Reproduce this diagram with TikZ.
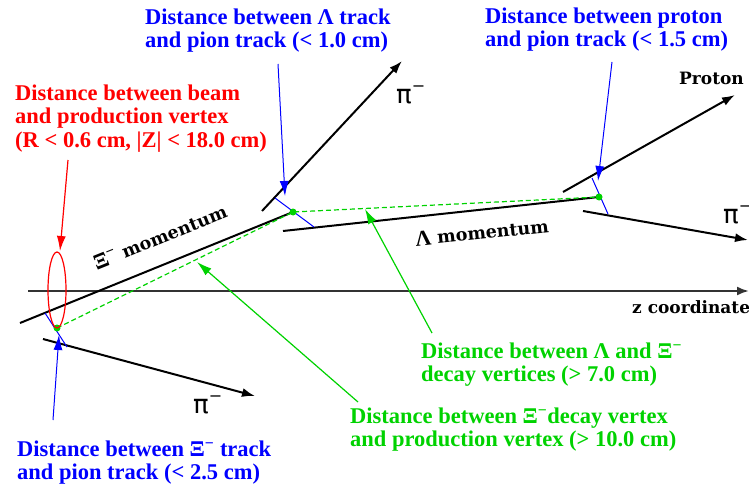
\documentclass[tikz,border=0pt]{standalone}
\usepackage{fontspec}
\newfontfamily\tnr{Liberation Serif}
\newfontfamily\pisans{DejaVu Sans}
\newfontfamily\dvserif{DejaVu Serif}
\usetikzlibrary{arrows.meta}
\definecolor{cred}{RGB}{255,0,0}
\definecolor{cblue}{RGB}{0,0,255}
\definecolor{cgreen}{RGB}{0,210,0}
\begin{document}
\begin{tikzpicture}[x=1pt,y=-1pt,
  lbl/.style={font=\tnr\bfseries\fontsize{22.5}{23.5}\selectfont, align=left, anchor=north west, inner sep=0pt},
  track/.style={line width=2pt, black},
  blackarr/.style={-{Latex[length=13pt,width=9pt]}},
  colarr/.style={-{Latex[length=15pt,width=9pt]}},
  blueline/.style={cblue, line width=1pt},
  greenline/.style={cgreen, line width=1.2pt},
  mom/.style={font=\dvserif\bfseries\fontsize{17.5}{17.5}\selectfont, inner sep=0pt},
  blk/.style={font=\dvserif\bfseries\fontsize{17}{17}\selectfont, inner sep=0pt, anchor=base west},
  pilbl/.style={font=\pisans\fontsize{26}{26}\selectfont, anchor=base west, inner sep=0pt},
  vtx/.style={cgreen}
]
\useasboundingbox (0,0) rectangle (749,484);

% z axis
\coordinate (zs) at (28,291);
\coordinate (ze) at (749,291);
\draw[line width=2.2pt, black!80, -{Latex[length=12pt,width=9pt]}] (zs) -- (ze);
\node[blk] (zlbl) at (632,313) {z coordinate};

% vertices
\coordinate (pv) at (57,328);
\coordinate (xv) at (293,212);
\coordinate (lv) at (599,197);

% tracks
\coordinate (xis) at (20,323);
\draw[track] (xis) -- (xv);
\coordinate (lams) at (283,231);
\draw[track] (lams) -- (lv);
\coordinate (pia) at (262,211);
\coordinate (piae) at (402,61);
\draw[track, blackarr] (pia) -- (piae);
\coordinate (prs) at (563,192);
\coordinate (pre) at (735,95);
\draw[track, blackarr] (prs) -- (pre);
\coordinate (pibs) at (583,211);
\coordinate (pibe) at (748,240);
\draw[track, blackarr] (pibs) -- (pibe);
\coordinate (pics) at (43,339);
\coordinate (pice) at (255,396);
\draw[track, blackarr] (pics) -- (pice);

% dashed decay lengths
\draw[greenline, dash pattern=on 5pt off 3pt] (pv) -- (xv) -- (lv);

% distance of closest approach segments
\coordinate (b1a) at (45,313); \coordinate (b1b) at (67,347);
\draw[blueline] (b1a) -- (b1b);
\coordinate (b2a) at (275,198); \coordinate (b2b) at (314,227);
\draw[blueline] (b2a) -- (b2b);
\coordinate (b3a) at (592,178); \coordinate (b3b) at (608,214);
\draw[blueline] (b3a) -- (b3b);

% vertex dots
\fill[vtx] (pv) circle[radius=3.5pt];
\fill[vtx] (xv) circle[radius=3.5pt];
\fill[vtx] (lv) circle[radius=3.5pt];

% beam ellipse
\coordinate (ellc) at (57,290);
\draw[cred, line width=1.2pt] (ellc) ellipse [x radius=9pt, y radius=38pt];

% labels
\node[lbl, text=cred] (beamtxt) at (15,84.5) {Distance between beam\\and production vertex\\(R < 0.6 cm, |Z| < 18.0 cm)};
\node[lbl, text=cblue] (lamtxt) at (145,8.5) {Distance between Λ track\\and pion track (< 1.0 cm)};
\node[lbl, text=cblue] (prtxt) at (485,7.5) {Distance between proton\\and pion track (< 1.5 cm)};
\node[lbl, text=cblue] (xitxt) at (17,440.5) {Distance between Ξ\textsuperscript{−} track\\and pion track (< 2.5 cm)};
\node[lbl, text=cgreen] (lxtxt) at (421,342.5) {Distance between Λ and Ξ\textsuperscript{−}\\decay vertices (> 7.0 cm)};
\node[lbl, text=cgreen] (xptxt) at (350,407.5) {Distance between Ξ\textsuperscript{−}decay vertex\\and production vertex (> 10.0 cm)};

\node[mom, rotate=22] (ximom) at (160,237) {{\tnr\fontsize{22}{22}\selectfont Ξ\textsuperscript{−}} momentum};
\node[mom, rotate=6] (lammom) at (482,232) {{\tnr\fontsize{22}{22}\selectfont Λ} momentum};
\node[blk] (prlbl) at (679,85) {Proton};

\node[pilbl] (pi1) at (396,103) {π\raisebox{12pt}{\fontsize{16}{16}\selectfont −}};
\node[pilbl] (pi2) at (723,223) {π\raisebox{12pt}{\fontsize{16}{16}\selectfont −}};
\node[pilbl] (pi3) at (193,413) {π\raisebox{12pt}{\fontsize{16}{16}\selectfont −}};

% pointer arrows
\coordinate (ra) at (68,160); \coordinate (rb) at (60,251);
\draw[cred, line width=1.2pt, colarr] (ra) -- (rb);
\coordinate (ba1) at (278,64); \coordinate (bb1) at (285,196);
\draw[blueline, colarr] (ba1) -- (bb1);
\coordinate (ba2) at (612,62); \coordinate (bb2) at (598,181);
\draw[blueline, colarr] (ba2) -- (bb2);
\coordinate (ba3) at (53,420); \coordinate (bb3) at (59,335);
\draw[blueline, colarr] (ba3) -- (bb3);
\coordinate (ga1) at (432,333); \coordinate (gb1) at (365,209);
\draw[greenline, colarr] (ga1) -- (gb1);
\coordinate (ga2) at (358,402); \coordinate (gb2) at (197,262);
\draw[greenline, colarr] (ga2) -- (gb2);
\end{tikzpicture}
\end{document}
